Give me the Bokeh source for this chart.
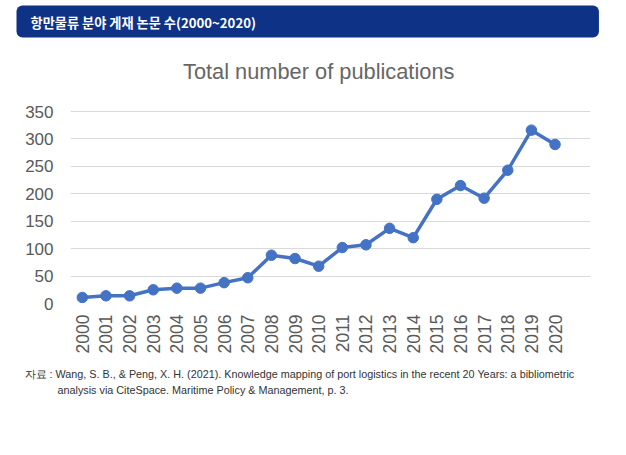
import math
from bokeh.plotting import figure
from bokeh.models import Range1d, FixedTicker, Title
from bokeh.embed import file_html
from bokeh.resources import INLINE

# ---- data ----
years = list(range(2000, 2021))
year_labels = [str(y) for y in years]
publications = [11, 14, 14, 25, 28, 28, 38, 47, 88, 82, 68, 102, 107, 137, 120,
                190, 215, 192, 243, 316, 290]
y_ticks = [0, 50, 100, 150, 200, 250, 300, 350]

header_text = "항만물류 분야 게재 논문 수(2000~2020)"
chart_title = "Total number of publications"
source_line1 = "자료 : Wang, S. B., & Peng, X. H. (2021). Knowledge mapping of port logistics in the recent 20 Years: a bibliometric"
source_line2 = "analysis via CiteSpace. Maritime Policy & Management, p. 3."

BLUE = "#4472C4"
GRAY = "#595959"
W, H = 618, 447

# plot area: top gridline (350) sits a little below the top of the frame
p = figure(width=W, height=H, output_backend="svg", toolbar_location=None,
           title=None,
           x_range=Range1d(1999.5, 2021.5), y_range=Range1d(0, 364.6),
           min_border_left=70, min_border_right=28, min_border_top=103,
           min_border_bottom=144)
p.outline_line_color = None
p.background_fill_color = "white"
p.border_fill_color = "white"

p.xaxis.ticker = FixedTicker(ticks=years)
p.xaxis.major_label_overrides = {y: s for y, s in zip(years, year_labels)}
p.xaxis.major_label_orientation = math.pi / 2
p.xaxis.axis_line_color = None
p.xaxis.major_tick_line_color = None
p.xaxis.minor_tick_line_color = None
p.xaxis.major_tick_out = 0
p.xaxis.major_tick_in = 0
p.xaxis.major_label_standoff = 11
p.xaxis.major_label_text_font = "Liberation Sans"
p.xaxis.major_label_text_font_size = "17.5px"
p.xaxis.major_label_text_color = GRAY

p.yaxis.ticker = FixedTicker(ticks=y_ticks)
p.yaxis.axis_line_color = None
p.yaxis.major_tick_line_color = None
p.yaxis.minor_tick_line_color = None
p.yaxis.major_tick_out = 0
p.yaxis.major_tick_in = 0
p.yaxis.major_label_standoff = 17
p.yaxis.major_label_text_font = "Liberation Sans"
p.yaxis.major_label_text_font_size = "17px"
p.yaxis.major_label_text_color = GRAY

p.xgrid.grid_line_color = None
p.ygrid.ticker = FixedTicker(ticks=y_ticks)
p.ygrid.grid_line_color = "#d9d9d9"
p.ygrid.grid_line_width = 1.2

p.line(years, publications, line_color=BLUE, line_width=3.5)
p.scatter(years, publications, size=10.5, fill_color=BLUE, line_color=BLUE)


def try_set(obj, **kw):
    for k, v in kw.items():
        try:
            setattr(obj, k, v)
        except Exception:
            pass


# ---- chart title (closest to the plot area) ----
t_chart = Title(text=chart_title, align="left", offset=112.5, standoff=39,
                vertical_align="bottom", text_font="Liberation Sans",
                text_font_size="21.8px", text_font_style="normal",
                text_color="#666666")
p.add_layout(t_chart, "above")

# ---- banner heading ----
t_head = Title(text=header_text, align="left", offset=-54, standoff=0,
               vertical_align="bottom", text_font="Noto Sans CJK KR",
               text_font_size="13.2px", text_font_style="bold",
               text_color="white", background_fill_color="#0e3386")
try_set(t_head, padding=dict(left=14, right=343, top=7, bottom=6), border_radius=6)
p.add_layout(t_head, "above")

# ---- source note ----
t_src = Title(text=source_line1 + "\n" + "\u00a0" * 11 + source_line2,
              align="left", offset=-46, standoff=22, vertical_align="top",
              text_font="Liberation Sans", text_font_size="10.8px",
              text_font_style="normal", text_color="#333333")
try_set(t_src, text_line_height=1.4)
p.add_layout(t_src, "below")

open("out.html", "w").write(file_html(p, INLINE))
